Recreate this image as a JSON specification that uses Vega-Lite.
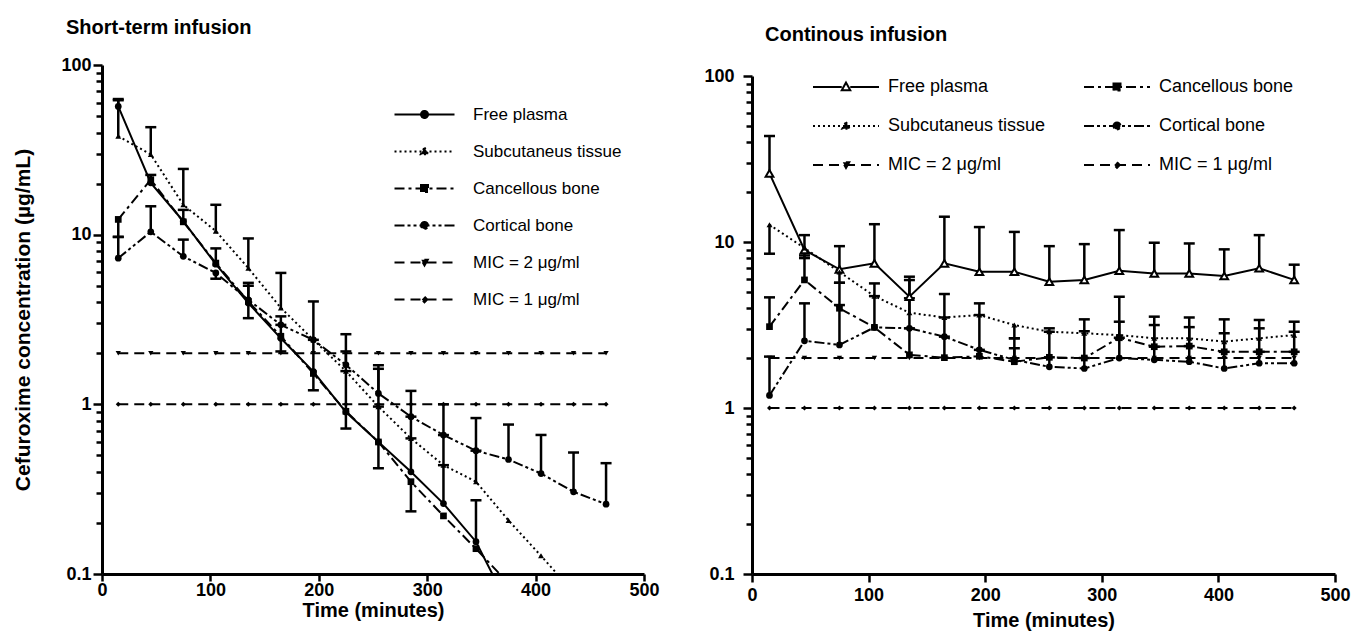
{
  "$schema": "https://vega.github.io/schema/vega-lite/v6.json",
  "padding": {"left": 12, "top": 18, "right": 1, "bottom": 2},
  "background": "white",
  "config": {
    "font": "Liberation Sans",
    "view": {"stroke": null},
    "axis": {"domainColor": "black", "domainWidth": 3, "tickColor": "black", "tickWidth": 2.5, "tickSize": 8, "labelFont": "Liberation Sans", "labelFontWeight": "bold", "labelFontSize": 18, "labelColor": "black", "titleFont": "Liberation Sans", "titleFontWeight": "bold", "titleFontSize": 20, "titleColor": "black", "grid": false, "labelOverlap": false, "labelFlush": false, "labelBound": false},
    "title": {"font": "Liberation Sans", "fontWeight": "bold", "fontSize": 20, "color": "black", "anchor": "start", "frame": "group"},
    "legend": {"labelFont": "Liberation Sans", "labelColor": "black", "labelLimit": 400, "padding": 0, "symbolStrokeColor": "black", "symbolStrokeWidth": 2, "symbolSize": 100, "symbolOpacity": 1}
  },
  "datasets": {
    "left": [
      {"series": "Free plasma", "t": 15, "conc": 57}, {"series": "Free plasma", "t": 45, "conc": 20.2}, {"series": "Free plasma", "t": 75, "conc": 12}, {"series": "Free plasma", "t": 105, "conc": 6.7}, {"series": "Free plasma", "t": 135, "conc": 3.95}, {"series": "Free plasma", "t": 165, "conc": 2.45}, {"series": "Free plasma", "t": 195, "conc": 1.56}, {"series": "Free plasma", "t": 225, "conc": 0.9}, {"series": "Free plasma", "t": 255, "conc": 0.6}, {"series": "Free plasma", "t": 285, "conc": 0.4}, {"series": "Free plasma", "t": 315, "conc": 0.26}, {"series": "Free plasma", "t": 345, "conc": 0.155}, {"series": "Free plasma", "t": 375, "conc": 0.065},
      {"series": "Subcutaneus tissue", "t": 15, "conc": 38}, {"series": "Subcutaneus tissue", "t": 45, "conc": 29.7}, {"series": "Subcutaneus tissue", "t": 75, "conc": 15}, {"series": "Subcutaneus tissue", "t": 105, "conc": 10.5}, {"series": "Subcutaneus tissue", "t": 135, "conc": 6.35}, {"series": "Subcutaneus tissue", "t": 165, "conc": 3.7}, {"series": "Subcutaneus tissue", "t": 195, "conc": 2.4}, {"series": "Subcutaneus tissue", "t": 225, "conc": 1.57}, {"series": "Subcutaneus tissue", "t": 255, "conc": 0.97}, {"series": "Subcutaneus tissue", "t": 285, "conc": 0.63}, {"series": "Subcutaneus tissue", "t": 315, "conc": 0.438}, {"series": "Subcutaneus tissue", "t": 345, "conc": 0.35}, {"series": "Subcutaneus tissue", "t": 375, "conc": 0.207}, {"series": "Subcutaneus tissue", "t": 405, "conc": 0.128}, {"series": "Subcutaneus tissue", "t": 435, "conc": 0.078},
      {"series": "Cancellous bone", "t": 15, "conc": 12.3}, {"series": "Cancellous bone", "t": 45, "conc": 21.1}, {"series": "Cancellous bone", "t": 75, "conc": 11.9}, {"series": "Cancellous bone", "t": 105, "conc": 6.8}, {"series": "Cancellous bone", "t": 135, "conc": 4.04}, {"series": "Cancellous bone", "t": 165, "conc": 2.52}, {"series": "Cancellous bone", "t": 195, "conc": 1.52}, {"series": "Cancellous bone", "t": 225, "conc": 0.91}, {"series": "Cancellous bone", "t": 255, "conc": 0.6}, {"series": "Cancellous bone", "t": 285, "conc": 0.35}, {"series": "Cancellous bone", "t": 315, "conc": 0.22}, {"series": "Cancellous bone", "t": 345, "conc": 0.141}, {"series": "Cancellous bone", "t": 375, "conc": 0.088},
      {"series": "Cortical bone", "t": 15, "conc": 7.27}, {"series": "Cortical bone", "t": 45, "conc": 10.4}, {"series": "Cortical bone", "t": 75, "conc": 7.45}, {"series": "Cortical bone", "t": 105, "conc": 5.95}, {"series": "Cortical bone", "t": 135, "conc": 4.13}, {"series": "Cortical bone", "t": 165, "conc": 2.94}, {"series": "Cortical bone", "t": 195, "conc": 2.4}, {"series": "Cortical bone", "t": 225, "conc": 1.71}, {"series": "Cortical bone", "t": 255, "conc": 1.16}, {"series": "Cortical bone", "t": 285, "conc": 0.846}, {"series": "Cortical bone", "t": 315, "conc": 0.659}, {"series": "Cortical bone", "t": 345, "conc": 0.533}, {"series": "Cortical bone", "t": 375, "conc": 0.473}, {"series": "Cortical bone", "t": 405, "conc": 0.391}, {"series": "Cortical bone", "t": 435, "conc": 0.305}, {"series": "Cortical bone", "t": 465, "conc": 0.258},
      {"series": "MIC = 2 μg/ml", "t": 15, "conc": 2}, {"series": "MIC = 2 μg/ml", "t": 45, "conc": 2}, {"series": "MIC = 2 μg/ml", "t": 75, "conc": 2}, {"series": "MIC = 2 μg/ml", "t": 105, "conc": 2}, {"series": "MIC = 2 μg/ml", "t": 135, "conc": 2}, {"series": "MIC = 2 μg/ml", "t": 165, "conc": 2}, {"series": "MIC = 2 μg/ml", "t": 195, "conc": 2}, {"series": "MIC = 2 μg/ml", "t": 225, "conc": 2}, {"series": "MIC = 2 μg/ml", "t": 255, "conc": 2}, {"series": "MIC = 2 μg/ml", "t": 285, "conc": 2}, {"series": "MIC = 2 μg/ml", "t": 315, "conc": 2}, {"series": "MIC = 2 μg/ml", "t": 345, "conc": 2}, {"series": "MIC = 2 μg/ml", "t": 375, "conc": 2}, {"series": "MIC = 2 μg/ml", "t": 405, "conc": 2}, {"series": "MIC = 2 μg/ml", "t": 435, "conc": 2}, {"series": "MIC = 2 μg/ml", "t": 465, "conc": 2},
      {"series": "MIC = 1 μg/ml", "t": 15, "conc": 1}, {"series": "MIC = 1 μg/ml", "t": 45, "conc": 1}, {"series": "MIC = 1 μg/ml", "t": 75, "conc": 1}, {"series": "MIC = 1 μg/ml", "t": 105, "conc": 1}, {"series": "MIC = 1 μg/ml", "t": 135, "conc": 1}, {"series": "MIC = 1 μg/ml", "t": 165, "conc": 1}, {"series": "MIC = 1 μg/ml", "t": 195, "conc": 1}, {"series": "MIC = 1 μg/ml", "t": 225, "conc": 1}, {"series": "MIC = 1 μg/ml", "t": 255, "conc": 1}, {"series": "MIC = 1 μg/ml", "t": 285, "conc": 1}, {"series": "MIC = 1 μg/ml", "t": 315, "conc": 1}, {"series": "MIC = 1 μg/ml", "t": 345, "conc": 1}, {"series": "MIC = 1 μg/ml", "t": 375, "conc": 1}, {"series": "MIC = 1 μg/ml", "t": 405, "conc": 1}, {"series": "MIC = 1 μg/ml", "t": 435, "conc": 1}, {"series": "MIC = 1 μg/ml", "t": 465, "conc": 1}
    ],
    "leftbars": [
      {"series": "Free plasma", "t": 15, "conc": 57, "end": 63}, {"series": "Subcutaneus tissue", "t": 15, "conc": 38, "end": 62}, {"series": "Cortical bone", "t": 15, "conc": 7.27, "end": 9.7}, {"series": "Cancellous bone", "t": 15, "conc": 12.3, "end": 9.7},
      {"series": "Subcutaneus tissue", "t": 45, "conc": 29.7, "end": 43}, {"series": "Cortical bone", "t": 45, "conc": 10.4, "end": 14.7}, {"series": "Free plasma", "t": 45, "conc": 20.2, "end": 22.5},
      {"series": "Subcutaneus tissue", "t": 75, "conc": 15, "end": 24.4}, {"series": "Free plasma", "t": 75, "conc": 12, "end": 14}, {"series": "Cortical bone", "t": 75, "conc": 7.45, "end": 9.35},
      {"series": "Subcutaneus tissue", "t": 105, "conc": 10.5, "end": 15}, {"series": "Free plasma", "t": 105, "conc": 6.7, "end": 8.3}, {"series": "Cortical bone", "t": 105, "conc": 5.95, "end": 5.5},
      {"series": "Subcutaneus tissue", "t": 135, "conc": 6.35, "end": 9.5}, {"series": "Cancellous bone", "t": 135, "conc": 4.04, "end": 5.2}, {"series": "Free plasma", "t": 135, "conc": 3.95, "end": 3.22}, {"series": "Cortical bone", "t": 135, "conc": 4.13, "end": 5.0},
      {"series": "Subcutaneus tissue", "t": 165, "conc": 3.7, "end": 5.95}, {"series": "Cortical bone", "t": 165, "conc": 2.94, "end": 3.3}, {"series": "Free plasma", "t": 165, "conc": 2.45, "end": 2.05}, {"series": "Cancellous bone", "t": 165, "conc": 2.52, "end": 2.94},
      {"series": "Subcutaneus tissue", "t": 195, "conc": 2.4, "end": 4.04}, {"series": "Free plasma", "t": 195, "conc": 1.56, "end": 1.21}, {"series": "Cancellous bone", "t": 195, "conc": 1.52, "end": 2.4},
      {"series": "Cortical bone", "t": 225, "conc": 1.71, "end": 2.59}, {"series": "Subcutaneus tissue", "t": 225, "conc": 1.57, "end": 2.05}, {"series": "Free plasma", "t": 225, "conc": 0.9, "end": 0.72}, {"series": "Cancellous bone", "t": 225, "conc": 0.91, "end": 1.57},
      {"series": "Cortical bone", "t": 255, "conc": 1.16, "end": 1.7}, {"series": "Subcutaneus tissue", "t": 255, "conc": 0.97, "end": 1.62}, {"series": "Free plasma", "t": 255, "conc": 0.6, "end": 0.42}, {"series": "Cancellous bone", "t": 255, "conc": 0.6, "end": 0.97},
      {"series": "Cortical bone", "t": 285, "conc": 0.846, "end": 1.2}, {"series": "Subcutaneus tissue", "t": 285, "conc": 0.63, "end": 0.846}, {"series": "Free plasma", "t": 285, "conc": 0.4, "end": 0.63}, {"series": "Cancellous bone", "t": 285, "conc": 0.35, "end": 0.234},
      {"series": "Cortical bone", "t": 315, "conc": 0.659, "end": 1.0}, {"series": "Subcutaneus tissue", "t": 315, "conc": 0.438, "end": 0.659}, {"series": "Free plasma", "t": 315, "conc": 0.26, "end": 0.438},
      {"series": "Cortical bone", "t": 345, "conc": 0.533, "end": 0.83}, {"series": "Subcutaneus tissue", "t": 345, "conc": 0.35, "end": 0.533}, {"series": "Free plasma", "t": 345, "conc": 0.155, "end": 0.272},
      {"series": "Cortical bone", "t": 375, "conc": 0.473, "end": 0.76}, {"series": "Cortical bone", "t": 405, "conc": 0.391, "end": 0.66}, {"series": "Cortical bone", "t": 435, "conc": 0.305, "end": 0.52}, {"series": "Cortical bone", "t": 465, "conc": 0.258, "end": 0.45}
    ],
    "right": [
      {"series": "Free plasma", "t": 15, "conc": 25.9}, {"series": "Free plasma", "t": 45, "conc": 8.95}, {"series": "Free plasma", "t": 75, "conc": 6.85}, {"series": "Free plasma", "t": 105, "conc": 7.44}, {"series": "Free plasma", "t": 135, "conc": 4.68}, {"series": "Free plasma", "t": 165, "conc": 7.44}, {"series": "Free plasma", "t": 195, "conc": 6.62}, {"series": "Free plasma", "t": 225, "conc": 6.62}, {"series": "Free plasma", "t": 255, "conc": 5.77}, {"series": "Free plasma", "t": 285, "conc": 5.91}, {"series": "Free plasma", "t": 315, "conc": 6.71}, {"series": "Free plasma", "t": 345, "conc": 6.47}, {"series": "Free plasma", "t": 375, "conc": 6.47}, {"series": "Free plasma", "t": 405, "conc": 6.24}, {"series": "Free plasma", "t": 435, "conc": 6.95}, {"series": "Free plasma", "t": 465, "conc": 5.91},
      {"series": "Subcutaneus tissue", "t": 15, "conc": 12.7}, {"series": "Subcutaneus tissue", "t": 45, "conc": 9.2}, {"series": "Subcutaneus tissue", "t": 75, "conc": 6.6}, {"series": "Subcutaneus tissue", "t": 105, "conc": 4.72}, {"series": "Subcutaneus tissue", "t": 135, "conc": 3.75}, {"series": "Subcutaneus tissue", "t": 165, "conc": 3.51}, {"series": "Subcutaneus tissue", "t": 195, "conc": 3.63}, {"series": "Subcutaneus tissue", "t": 225, "conc": 3.16}, {"series": "Subcutaneus tissue", "t": 255, "conc": 2.88}, {"series": "Subcutaneus tissue", "t": 285, "conc": 2.82}, {"series": "Subcutaneus tissue", "t": 315, "conc": 2.75}, {"series": "Subcutaneus tissue", "t": 345, "conc": 2.63}, {"series": "Subcutaneus tissue", "t": 375, "conc": 2.63}, {"series": "Subcutaneus tissue", "t": 405, "conc": 2.51}, {"series": "Subcutaneus tissue", "t": 435, "conc": 2.63}, {"series": "Subcutaneus tissue", "t": 465, "conc": 2.75},
      {"series": "Cancellous bone", "t": 15, "conc": 3.09}, {"series": "Cancellous bone", "t": 45, "conc": 5.91}, {"series": "Cancellous bone", "t": 75, "conc": 3.99}, {"series": "Cancellous bone", "t": 105, "conc": 3.06}, {"series": "Cancellous bone", "t": 135, "conc": 2.09}, {"series": "Cancellous bone", "t": 165, "conc": 2.01}, {"series": "Cancellous bone", "t": 195, "conc": 2.05}, {"series": "Cancellous bone", "t": 225, "conc": 1.9}, {"series": "Cancellous bone", "t": 255, "conc": 2.02}, {"series": "Cancellous bone", "t": 285, "conc": 2.0}, {"series": "Cancellous bone", "t": 315, "conc": 2.65}, {"series": "Cancellous bone", "t": 345, "conc": 2.34}, {"series": "Cancellous bone", "t": 375, "conc": 2.36}, {"series": "Cancellous bone", "t": 405, "conc": 2.18}, {"series": "Cancellous bone", "t": 435, "conc": 2.18}, {"series": "Cancellous bone", "t": 465, "conc": 2.18},
      {"series": "Cortical bone", "t": 15, "conc": 1.19}, {"series": "Cortical bone", "t": 45, "conc": 2.54}, {"series": "Cortical bone", "t": 75, "conc": 2.4}, {"series": "Cortical bone", "t": 105, "conc": 3.06}, {"series": "Cortical bone", "t": 135, "conc": 3.02}, {"series": "Cortical bone", "t": 165, "conc": 2.69}, {"series": "Cortical bone", "t": 195, "conc": 2.24}, {"series": "Cortical bone", "t": 225, "conc": 1.95}, {"series": "Cortical bone", "t": 255, "conc": 1.77}, {"series": "Cortical bone", "t": 285, "conc": 1.73}, {"series": "Cortical bone", "t": 315, "conc": 2.0}, {"series": "Cortical bone", "t": 345, "conc": 1.95}, {"series": "Cortical bone", "t": 375, "conc": 1.9}, {"series": "Cortical bone", "t": 405, "conc": 1.73}, {"series": "Cortical bone", "t": 435, "conc": 1.86}, {"series": "Cortical bone", "t": 465, "conc": 1.86},
      {"series": "MIC = 2 μg/ml", "t": 15, "conc": 2}, {"series": "MIC = 2 μg/ml", "t": 45, "conc": 2}, {"series": "MIC = 2 μg/ml", "t": 75, "conc": 2}, {"series": "MIC = 2 μg/ml", "t": 105, "conc": 2}, {"series": "MIC = 2 μg/ml", "t": 135, "conc": 2}, {"series": "MIC = 2 μg/ml", "t": 165, "conc": 2}, {"series": "MIC = 2 μg/ml", "t": 195, "conc": 2}, {"series": "MIC = 2 μg/ml", "t": 225, "conc": 2}, {"series": "MIC = 2 μg/ml", "t": 255, "conc": 2}, {"series": "MIC = 2 μg/ml", "t": 285, "conc": 2}, {"series": "MIC = 2 μg/ml", "t": 315, "conc": 2}, {"series": "MIC = 2 μg/ml", "t": 345, "conc": 2}, {"series": "MIC = 2 μg/ml", "t": 375, "conc": 2}, {"series": "MIC = 2 μg/ml", "t": 405, "conc": 2}, {"series": "MIC = 2 μg/ml", "t": 435, "conc": 2}, {"series": "MIC = 2 μg/ml", "t": 465, "conc": 2},
      {"series": "MIC = 1 μg/ml", "t": 15, "conc": 1}, {"series": "MIC = 1 μg/ml", "t": 45, "conc": 1}, {"series": "MIC = 1 μg/ml", "t": 75, "conc": 1}, {"series": "MIC = 1 μg/ml", "t": 105, "conc": 1}, {"series": "MIC = 1 μg/ml", "t": 135, "conc": 1}, {"series": "MIC = 1 μg/ml", "t": 165, "conc": 1}, {"series": "MIC = 1 μg/ml", "t": 195, "conc": 1}, {"series": "MIC = 1 μg/ml", "t": 225, "conc": 1}, {"series": "MIC = 1 μg/ml", "t": 255, "conc": 1}, {"series": "MIC = 1 μg/ml", "t": 285, "conc": 1}, {"series": "MIC = 1 μg/ml", "t": 315, "conc": 1}, {"series": "MIC = 1 μg/ml", "t": 345, "conc": 1}, {"series": "MIC = 1 μg/ml", "t": 375, "conc": 1}, {"series": "MIC = 1 μg/ml", "t": 405, "conc": 1}, {"series": "MIC = 1 μg/ml", "t": 435, "conc": 1}, {"series": "MIC = 1 μg/ml", "t": 465, "conc": 1}
    ],
    "rightbars": [
      {"series": "Free plasma", "t": 15, "conc": 25.9, "end": 43.5}, {"series": "Subcutaneus tissue", "t": 15, "conc": 12.7, "end": 8.5}, {"series": "Cancellous bone", "t": 15, "conc": 3.09, "end": 4.64}, {"series": "Cortical bone", "t": 15, "conc": 1.19, "end": 2.04},
      {"series": "Free plasma", "t": 45, "conc": 8.95, "end": 11.0}, {"series": "Subcutaneus tissue", "t": 45, "conc": 9.2, "end": 8.0}, {"series": "Cancellous bone", "t": 45, "conc": 5.91, "end": 8.3}, {"series": "Cortical bone", "t": 45, "conc": 2.54, "end": 4.27},
      {"series": "Free plasma", "t": 75, "conc": 6.85, "end": 9.44}, {"series": "Subcutaneus tissue", "t": 75, "conc": 6.6, "end": 5.68}, {"series": "Cancellous bone", "t": 75, "conc": 3.99, "end": 5.68}, {"series": "Cortical bone", "t": 75, "conc": 2.4, "end": 4.17},
      {"series": "Free plasma", "t": 105, "conc": 7.44, "end": 12.8}, {"series": "Subcutaneus tissue", "t": 105, "conc": 4.72, "end": 5.63}, {"series": "Cortical bone", "t": 105, "conc": 3.06, "end": 4.72},
      {"series": "Free plasma", "t": 135, "conc": 4.68, "end": 6.18}, {"series": "Subcutaneus tissue", "t": 135, "conc": 3.75, "end": 5.9}, {"series": "Cortical bone", "t": 135, "conc": 3.02, "end": 4.58}, {"series": "Cancellous bone", "t": 135, "conc": 2.09, "end": 3.02},
      {"series": "Free plasma", "t": 165, "conc": 7.44, "end": 14.2}, {"series": "Subcutaneus tissue", "t": 165, "conc": 3.51, "end": 4.86}, {"series": "Cortical bone", "t": 165, "conc": 2.69, "end": 3.51}, {"series": "Cancellous bone", "t": 165, "conc": 2.01, "end": 2.69},
      {"series": "Free plasma", "t": 195, "conc": 6.62, "end": 12.3}, {"series": "Subcutaneus tissue", "t": 195, "conc": 3.63, "end": 4.27}, {"series": "Cortical bone", "t": 195, "conc": 2.24, "end": 3.63}, {"series": "Cancellous bone", "t": 195, "conc": 2.05, "end": 2.24},
      {"series": "Free plasma", "t": 225, "conc": 6.62, "end": 11.5}, {"series": "Subcutaneus tissue", "t": 225, "conc": 3.16, "end": 2.63}, {"series": "Cancellous bone", "t": 225, "conc": 1.9, "end": 2.63}, {"series": "Cortical bone", "t": 225, "conc": 1.95, "end": 2.29},
      {"series": "Free plasma", "t": 255, "conc": 5.77, "end": 9.44}, {"series": "Subcutaneus tissue", "t": 255, "conc": 2.88, "end": 3.02}, {"series": "Cancellous bone", "t": 255, "conc": 2.02, "end": 2.88}, {"series": "Cortical bone", "t": 255, "conc": 1.77, "end": 2.02},
      {"series": "Free plasma", "t": 285, "conc": 5.91, "end": 9.71}, {"series": "Subcutaneus tissue", "t": 285, "conc": 2.82, "end": 3.42}, {"series": "Cancellous bone", "t": 285, "conc": 2.0, "end": 2.9}, {"series": "Cortical bone", "t": 285, "conc": 1.73, "end": 2.0},
      {"series": "Free plasma", "t": 315, "conc": 6.71, "end": 11.8}, {"series": "Cancellous bone", "t": 315, "conc": 2.65, "end": 4.68}, {"series": "Subcutaneus tissue", "t": 315, "conc": 2.75, "end": 3.31}, {"series": "Cortical bone", "t": 315, "conc": 2.0, "end": 2.65},
      {"series": "Free plasma", "t": 345, "conc": 6.47, "end": 9.9}, {"series": "Subcutaneus tissue", "t": 345, "conc": 2.63, "end": 3.55}, {"series": "Cancellous bone", "t": 345, "conc": 2.34, "end": 3.16}, {"series": "Cortical bone", "t": 345, "conc": 1.95, "end": 2.34},
      {"series": "Free plasma", "t": 375, "conc": 6.47, "end": 9.8}, {"series": "Subcutaneus tissue", "t": 375, "conc": 2.63, "end": 3.51}, {"series": "Cancellous bone", "t": 375, "conc": 2.36, "end": 3.07}, {"series": "Cortical bone", "t": 375, "conc": 1.9, "end": 2.36},
      {"series": "Free plasma", "t": 405, "conc": 6.24, "end": 9.03}, {"series": "Subcutaneus tissue", "t": 405, "conc": 2.51, "end": 3.42}, {"series": "Cancellous bone", "t": 405, "conc": 2.18, "end": 2.82}, {"series": "Cortical bone", "t": 405, "conc": 1.73, "end": 2.18},
      {"series": "Free plasma", "t": 435, "conc": 6.95, "end": 11.0}, {"series": "Subcutaneus tissue", "t": 435, "conc": 2.63, "end": 3.39}, {"series": "Cancellous bone", "t": 435, "conc": 2.18, "end": 3.02}, {"series": "Cortical bone", "t": 435, "conc": 1.86, "end": 2.18},
      {"series": "Free plasma", "t": 465, "conc": 5.91, "end": 7.3}, {"series": "Subcutaneus tissue", "t": 465, "conc": 2.75, "end": 3.31}, {"series": "Cancellous bone", "t": 465, "conc": 2.18, "end": 2.88}, {"series": "Cortical bone", "t": 465, "conc": 1.86, "end": 2.18}
    ]
  },
  "resolve": {"scale": {"x": "independent", "y": "independent", "shape": "independent", "strokeDash": "independent", "fill": "independent", "stroke": "independent"}, "legend": {"shape": "independent", "strokeDash": "independent", "fill": "independent", "stroke": "independent"}},
  "spacing": 43,
  "hconcat": [
    {
      "width": 542,
      "height": 509,
      "title": {"text": "Short-term infusion", "dx": -36, "offset": 18},
      "encoding": {
        "x": {"field": "t", "type": "quantitative", "title": "Time (minutes)", "scale": {"domain": [0, 500], "nice": false, "zero": false}, "axis": {"values": [0, 100, 200, 300, 400, 500], "titlePadding": 1, "labelPadding": 0, "tickSize": 7}},
        "y": {"field": "conc", "type": "quantitative", "title": "Cefuroxime concentration (µg/mL)", "scale": {"type": "log", "domain": [0.1, 100]}, "axis": {"values": [0.1, 0.2, 0.3, 0.4, 0.5, 0.6, 0.7, 0.8, 0.9, 1, 2, 3, 4, 5, 6, 7, 8, 9, 10, 20, 30, 40, 50, 60, 70, 80, 90, 100], "labelExpr": "datum.value == 100 ? '100' : datum.value == 10 ? '10' : datum.value == 1 ? '1' : datum.value == 0.1 ? '0.1' : ''", "tickSize": {"condition": {"test": "datum.value == 100 || datum.value == 10 || datum.value == 1 || datum.value == 0.1", "value": 9}, "value": 6}, "labelPadding": 2, "titlePadding": 27, "titleFontSize": 21}}
      },
      "layer": [
        {"data": {"name": "leftbars"}, "mark": {"type": "rule", "color": "black", "strokeWidth": 2.5, "clip": true}, "encoding": {"y2": {"field": "end"}}},
        {"data": {"name": "leftbars"}, "mark": {"type": "point", "shape": "stroke", "size": 121, "stroke": "black", "strokeWidth": 2.5, "opacity": 1, "clip": true}, "encoding": {"y": {"field": "end", "type": "quantitative", "title": "Cefuroxime concentration (µg/mL)"}}},
        {"data": {"name": "left"}, "transform": [{"filter": "datum.series === 'Free plasma'"}], "mark": {"type": "line", "color": "black", "strokeWidth": 2, "clip": true}},
        {"data": {"name": "left"}, "transform": [{"filter": "datum.series === 'Subcutaneus tissue'"}], "mark": {"type": "line", "color": "black", "strokeWidth": 2, "strokeDash": [2, 3], "clip": true}},
        {"data": {"name": "left"}, "transform": [{"filter": "datum.series === 'Cancellous bone'"}], "mark": {"type": "line", "color": "black", "strokeWidth": 2, "strokeDash": [10, 4, 3, 4], "clip": true}},
        {"data": {"name": "left"}, "transform": [{"filter": "datum.series === 'Cortical bone'"}], "mark": {"type": "line", "color": "black", "strokeWidth": 2, "strokeDash": [10, 3, 3, 3, 3, 3], "clip": true}},
        {"data": {"name": "left"}, "transform": [{"filter": "datum.series === 'MIC = 2 μg/ml'"}], "mark": {"type": "line", "color": "black", "strokeWidth": 2, "strokeDash": [10, 6], "clip": true}},
        {"data": {"name": "left"}, "transform": [{"filter": "datum.series === 'MIC = 1 μg/ml'"}], "mark": {"type": "line", "color": "black", "strokeWidth": 2, "strokeDash": [10, 6], "clip": true}},
        {"data": {"name": "left"}, "transform": [{"filter": "datum.series === 'Free plasma' || datum.series === 'Cortical bone'"}], "mark": {"type": "point", "shape": "circle", "filled": true, "color": "black", "opacity": 1, "size": 45, "clip": true}},
        {"data": {"name": "left"}, "transform": [{"filter": "datum.series === 'Subcutaneus tissue'"}], "mark": {"type": "point", "shape": "triangle-up", "filled": true, "color": "black", "opacity": 1, "size": 35, "clip": true}},
        {"data": {"name": "left"}, "transform": [{"filter": "datum.series === 'Cancellous bone'"}], "mark": {"type": "point", "shape": "square", "filled": true, "color": "black", "opacity": 1, "size": 45, "clip": true}},
        {"data": {"name": "left"}, "transform": [{"filter": "datum.series === 'MIC = 2 μg/ml'"}], "mark": {"type": "point", "shape": "triangle-down", "filled": true, "color": "black", "opacity": 1, "size": 28, "clip": true}},
        {"data": {"name": "left"}, "transform": [{"filter": "datum.series === 'MIC = 1 μg/ml'"}], "mark": {"type": "point", "shape": "diamond", "filled": true, "color": "black", "opacity": 1, "size": 25, "clip": true}},
        {"data": {"name": "left"}, "transform": [{"filter": "false"}], "mark": {"type": "point", "strokeWidth": 2, "size": 100, "opacity": 1},
          "encoding": {
            "shape": {"field": "series", "type": "nominal", "scale": {"domain": ["Free plasma", "Subcutaneus tissue", "Cancellous bone", "Cortical bone", "MIC = 2 μg/ml", "MIC = 1 μg/ml"], "range": ["M-6,0H6M-0.7,0A0.7,0.7,0,1,1,0.7,0A0.7,0.7,0,1,1,-0.7,0Z", "M-6,0H6M0,-0.8L0.75,0.55L-0.75,0.55Z", "M-6,0H6M-0.7,-0.7H0.7V0.7H-0.7Z", "M-6,0H6M-0.7,0A0.7,0.7,0,1,1,0.7,0A0.7,0.7,0,1,1,-0.7,0Z", "M-6,0H6M0,0.6L0.65,-0.55L-0.65,-0.55Z", "M-6,0H6M0,-0.55L0.55,0L0,0.55L-0.55,0Z"]}, "legend": {"title": null, "orient": "none", "legendX": 314, "legendY": 41, "labelFontSize": 17, "labelOffset": 40, "rowPadding": 19}},
            "strokeDash": {"field": "series", "type": "nominal", "scale": {"domain": ["Free plasma", "Subcutaneus tissue", "Cancellous bone", "Cortical bone", "MIC = 2 μg/ml", "MIC = 1 μg/ml"], "range": [[1, 0], [2, 3], [10, 4, 3, 4], [10, 3, 3, 3, 3, 3], [10, 6], [10, 6]]}, "legend": {"title": null, "orient": "none", "legendX": 314, "legendY": 41, "labelFontSize": 17, "labelOffset": 40, "rowPadding": 19}},
            "fill": {"field": "series", "type": "nominal", "scale": {"domain": ["Free plasma", "Subcutaneus tissue", "Cancellous bone", "Cortical bone", "MIC = 2 μg/ml", "MIC = 1 μg/ml"], "range": ["black", "black", "black", "black", "black", "black"]}, "legend": {"title": null, "orient": "none", "legendX": 314, "legendY": 41, "labelFontSize": 17, "labelOffset": 40, "rowPadding": 19}},
            "stroke": {"field": "series", "type": "nominal", "scale": {"domain": ["Free plasma", "Subcutaneus tissue", "Cancellous bone", "Cortical bone", "MIC = 2 μg/ml", "MIC = 1 μg/ml"], "range": ["black", "black", "black", "black", "black", "black"]}, "legend": {"title": null, "orient": "none", "legendX": 314, "legendY": 41, "labelFontSize": 17, "labelOffset": 40, "rowPadding": 19}}
          }
        }
      ]
    },
    {
      "width": 583,
      "height": 509,
      "title": {"text": "Continous infusion", "dx": 13, "offset": 20},
      "encoding": {
        "x": {"field": "t", "type": "quantitative", "title": "Time (minutes)", "scale": {"domain": [0, 500], "nice": false, "zero": false}, "axis": {"values": [0, 100, 200, 300, 400, 500], "titlePadding": 6, "labelPadding": 4}},
        "y": {"field": "conc", "type": "quantitative", "title": null, "scale": {"type": "log", "domain": [0.1, 100], "range": [509, 11]}, "axis": {"values": [0.1, 0.2, 0.3, 0.4, 0.5, 0.6, 0.7, 0.8, 0.9, 1, 2, 3, 4, 5, 6, 7, 8, 9, 10, 20, 30, 40, 50, 60, 70, 80, 90, 100], "labelExpr": "datum.value == 100 ? '100' : datum.value == 10 ? '10' : datum.value == 1 ? '1' : datum.value == 0.1 ? '0.1' : ''", "tickSize": {"condition": {"test": "datum.value == 100 || datum.value == 10 || datum.value == 1 || datum.value == 0.1", "value": 9}, "value": 6}, "labelPadding": 9}}
      },
      "layer": [
        {"data": {"name": "rightbars"}, "mark": {"type": "rule", "color": "black", "strokeWidth": 2.5, "clip": true}, "encoding": {"y2": {"field": "end"}}},
        {"data": {"name": "rightbars"}, "mark": {"type": "point", "shape": "stroke", "size": 121, "stroke": "black", "strokeWidth": 2.5, "opacity": 1, "clip": true}, "encoding": {"y": {"field": "end", "type": "quantitative", "title": null}}},
        {"data": {"name": "right"}, "transform": [{"filter": "datum.series === 'Free plasma'"}], "mark": {"type": "line", "color": "black", "strokeWidth": 2, "clip": true}},
        {"data": {"name": "right"}, "transform": [{"filter": "datum.series === 'Subcutaneus tissue'"}], "mark": {"type": "line", "color": "black", "strokeWidth": 2, "strokeDash": [2, 3], "clip": true}},
        {"data": {"name": "right"}, "transform": [{"filter": "datum.series === 'Cancellous bone'"}], "mark": {"type": "line", "color": "black", "strokeWidth": 2, "strokeDash": [10, 4, 3, 4], "clip": true}},
        {"data": {"name": "right"}, "transform": [{"filter": "datum.series === 'Cortical bone'"}], "mark": {"type": "line", "color": "black", "strokeWidth": 2, "strokeDash": [10, 3, 3, 3, 3, 3], "clip": true}},
        {"data": {"name": "right"}, "transform": [{"filter": "datum.series === 'MIC = 2 μg/ml'"}], "mark": {"type": "line", "color": "black", "strokeWidth": 2, "strokeDash": [10, 6], "clip": true}},
        {"data": {"name": "right"}, "transform": [{"filter": "datum.series === 'MIC = 1 μg/ml'"}], "mark": {"type": "line", "color": "black", "strokeWidth": 2, "strokeDash": [10, 6], "clip": true}},
        {"data": {"name": "right"}, "transform": [{"filter": "datum.series === 'Free plasma'"}], "mark": {"type": "point", "shape": "triangle-up", "filled": true, "fill": "white", "stroke": "black", "strokeWidth": 2, "opacity": 1, "size": 60, "clip": true}},
        {"data": {"name": "right"}, "transform": [{"filter": "datum.series === 'Cortical bone'"}], "mark": {"type": "point", "shape": "circle", "filled": true, "color": "black", "opacity": 1, "size": 45, "clip": true}},
        {"data": {"name": "right"}, "transform": [{"filter": "datum.series === 'Subcutaneus tissue'"}], "mark": {"type": "point", "shape": "triangle-up", "filled": true, "color": "black", "opacity": 1, "size": 35, "clip": true}},
        {"data": {"name": "right"}, "transform": [{"filter": "datum.series === 'Cancellous bone'"}], "mark": {"type": "point", "shape": "square", "filled": true, "color": "black", "opacity": 1, "size": 45, "clip": true}},
        {"data": {"name": "right"}, "transform": [{"filter": "datum.series === 'MIC = 2 μg/ml'"}], "mark": {"type": "point", "shape": "triangle-down", "filled": true, "color": "black", "opacity": 1, "size": 28, "clip": true}},
        {"data": {"name": "right"}, "transform": [{"filter": "datum.series === 'MIC = 1 μg/ml'"}], "mark": {"type": "point", "shape": "diamond", "filled": true, "color": "black", "opacity": 1, "size": 25, "clip": true}},
        {"data": {"name": "right"}, "transform": [{"filter": "false"}], "mark": {"type": "point", "strokeWidth": 2, "size": 100, "opacity": 1},
          "encoding": {
            "shape": {"field": "series", "type": "nominal", "scale": {"domain": ["Free plasma", "Subcutaneus tissue", "MIC = 2 μg/ml", "Cancellous bone", "Cortical bone", "MIC = 1 μg/ml"], "range": ["M-6.6,0H-0.85M0.85,0H6.6M0,-0.9L0.85,0.65L-0.85,0.65Z", "M-6.6,0H6.6M0,-0.8L0.75,0.55L-0.75,0.55Z", "M-6.6,0H6.6M0,0.6L0.65,-0.55L-0.65,-0.55Z", "M-6.6,0H6.6M-0.7,-0.7H0.7V0.7H-0.7Z", "M-6.6,0H6.6M-0.7,0A0.7,0.7,0,1,1,0.7,0A0.7,0.7,0,1,1,-0.7,0Z", "M-6.6,0H6.6M0,-0.55L0.55,0L0,0.55L-0.55,0Z"]}, "legend": {"title": null, "orient": "none", "legendX": 85, "legendY": 13, "columns": 2, "labelFontSize": 18, "labelOffset": 33, "rowPadding": 21, "columnPadding": 34}},
            "strokeDash": {"field": "series", "type": "nominal", "scale": {"domain": ["Free plasma", "Subcutaneus tissue", "MIC = 2 μg/ml", "Cancellous bone", "Cortical bone", "MIC = 1 μg/ml"], "range": [[1, 0], [2, 3], [10, 6], [10, 4, 3, 4], [10, 3, 3, 3, 3, 3], [10, 6]]}, "legend": {"title": null, "orient": "none", "legendX": 85, "legendY": 13, "columns": 2, "labelFontSize": 18, "labelOffset": 33, "rowPadding": 21, "columnPadding": 34}},
            "fill": {"field": "series", "type": "nominal", "scale": {"domain": ["Free plasma", "Subcutaneus tissue", "MIC = 2 μg/ml", "Cancellous bone", "Cortical bone", "MIC = 1 μg/ml"], "range": ["white", "black", "black", "black", "black", "black"]}, "legend": {"title": null, "orient": "none", "legendX": 85, "legendY": 13, "columns": 2, "labelFontSize": 18, "labelOffset": 33, "rowPadding": 21, "columnPadding": 34}},
            "stroke": {"field": "series", "type": "nominal", "scale": {"domain": ["Free plasma", "Subcutaneus tissue", "MIC = 2 μg/ml", "Cancellous bone", "Cortical bone", "MIC = 1 μg/ml"], "range": ["black", "black", "black", "black", "black", "black"]}, "legend": {"title": null, "orient": "none", "legendX": 85, "legendY": 13, "columns": 2, "labelFontSize": 18, "labelOffset": 33, "rowPadding": 21, "columnPadding": 34}}
          }
        }
      ]
    }
  ]
}
